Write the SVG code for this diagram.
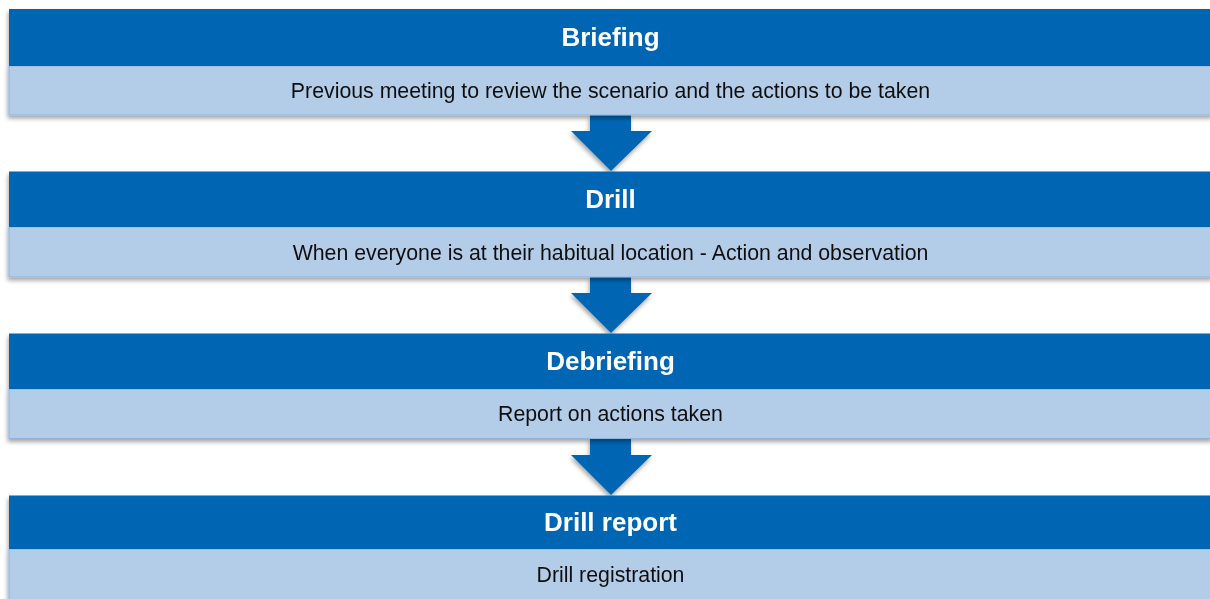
<svg xmlns="http://www.w3.org/2000/svg" width="1210" height="599" viewBox="0 0 1210 599">
  <style>
    .head { fill: #0066b3; }
    .body { fill: #b3cde9; stroke: #8fb4df; stroke-width: 1; }
    .title { font-family: "Liberation Sans", Arial, sans-serif; font-weight: bold; font-size: 26px; fill: #ffffff; text-anchor: middle; }
    .desc { font-family: "Liberation Sans", Arial, sans-serif; font-size: 21.3px; fill: #111111; text-anchor: middle; }
    .arrow { fill: #0066b3; }
  </style>
  <defs>
    <filter id="shadow" x="-5%" y="-20%" width="110%" height="150%">
      <feDropShadow dx="-1" dy="3" stdDeviation="2" flood-color="#000000" flood-opacity="0.35"/>
    </filter>
  </defs>
  <rect width="1210" height="599" fill="#ffffff"/>

  <!-- connectors between the stages -->
  <g id="connectors" filter="url(#shadow)">
    <polygon class="arrow" points="590,115 631,115 631,131 652,131 611,171 571,131 590,131"/>
    <polygon class="arrow" points="590,277 631,277 631,293 652,293 611,333 571,293 590,293"/>
    <polygon class="arrow" points="590,438 631,438 631,455 652,455 611,495 571,455 590,455"/>
  </g>

  <g id="briefing" filter="url(#shadow)">
    <rect class="body" x="9" y="66" width="1204" height="49"/>
    <rect class="head" x="9" y="9" width="1204" height="57"/>
    <text class="title" x="610.5" y="46">Briefing</text>
    <text class="desc" x="610.5" y="97.5">Previous meeting to review the scenario and the actions to be taken</text>
  </g>

  <g id="drill" filter="url(#shadow)">
    <rect class="body" x="9" y="227" width="1204" height="50"/>
    <rect class="head" x="9" y="171.5" width="1204" height="55.5"/>
    <text class="title" x="610.5" y="208">Drill</text>
    <text class="desc" x="610.5" y="259.5">When everyone is at their habitual location - Action and observation</text>
  </g>

  <g id="debriefing" filter="url(#shadow)">
    <rect class="body" x="9" y="389" width="1204" height="49.5"/>
    <rect class="head" x="9" y="333.5" width="1204" height="55.5"/>
    <text class="title" x="610.5" y="370">Debriefing</text>
    <text class="desc" x="610.5" y="420.5">Report on actions taken</text>
  </g>

  <g id="drill-report" filter="url(#shadow)">
    <rect class="body" x="9" y="549" width="1204" height="55"/>
    <rect class="head" x="9" y="495.5" width="1204" height="53.5"/>
    <text class="title" x="610.5" y="531">Drill report</text>
    <text class="desc" x="610.5" y="581.5">Drill registration</text>
  </g>
</svg>
